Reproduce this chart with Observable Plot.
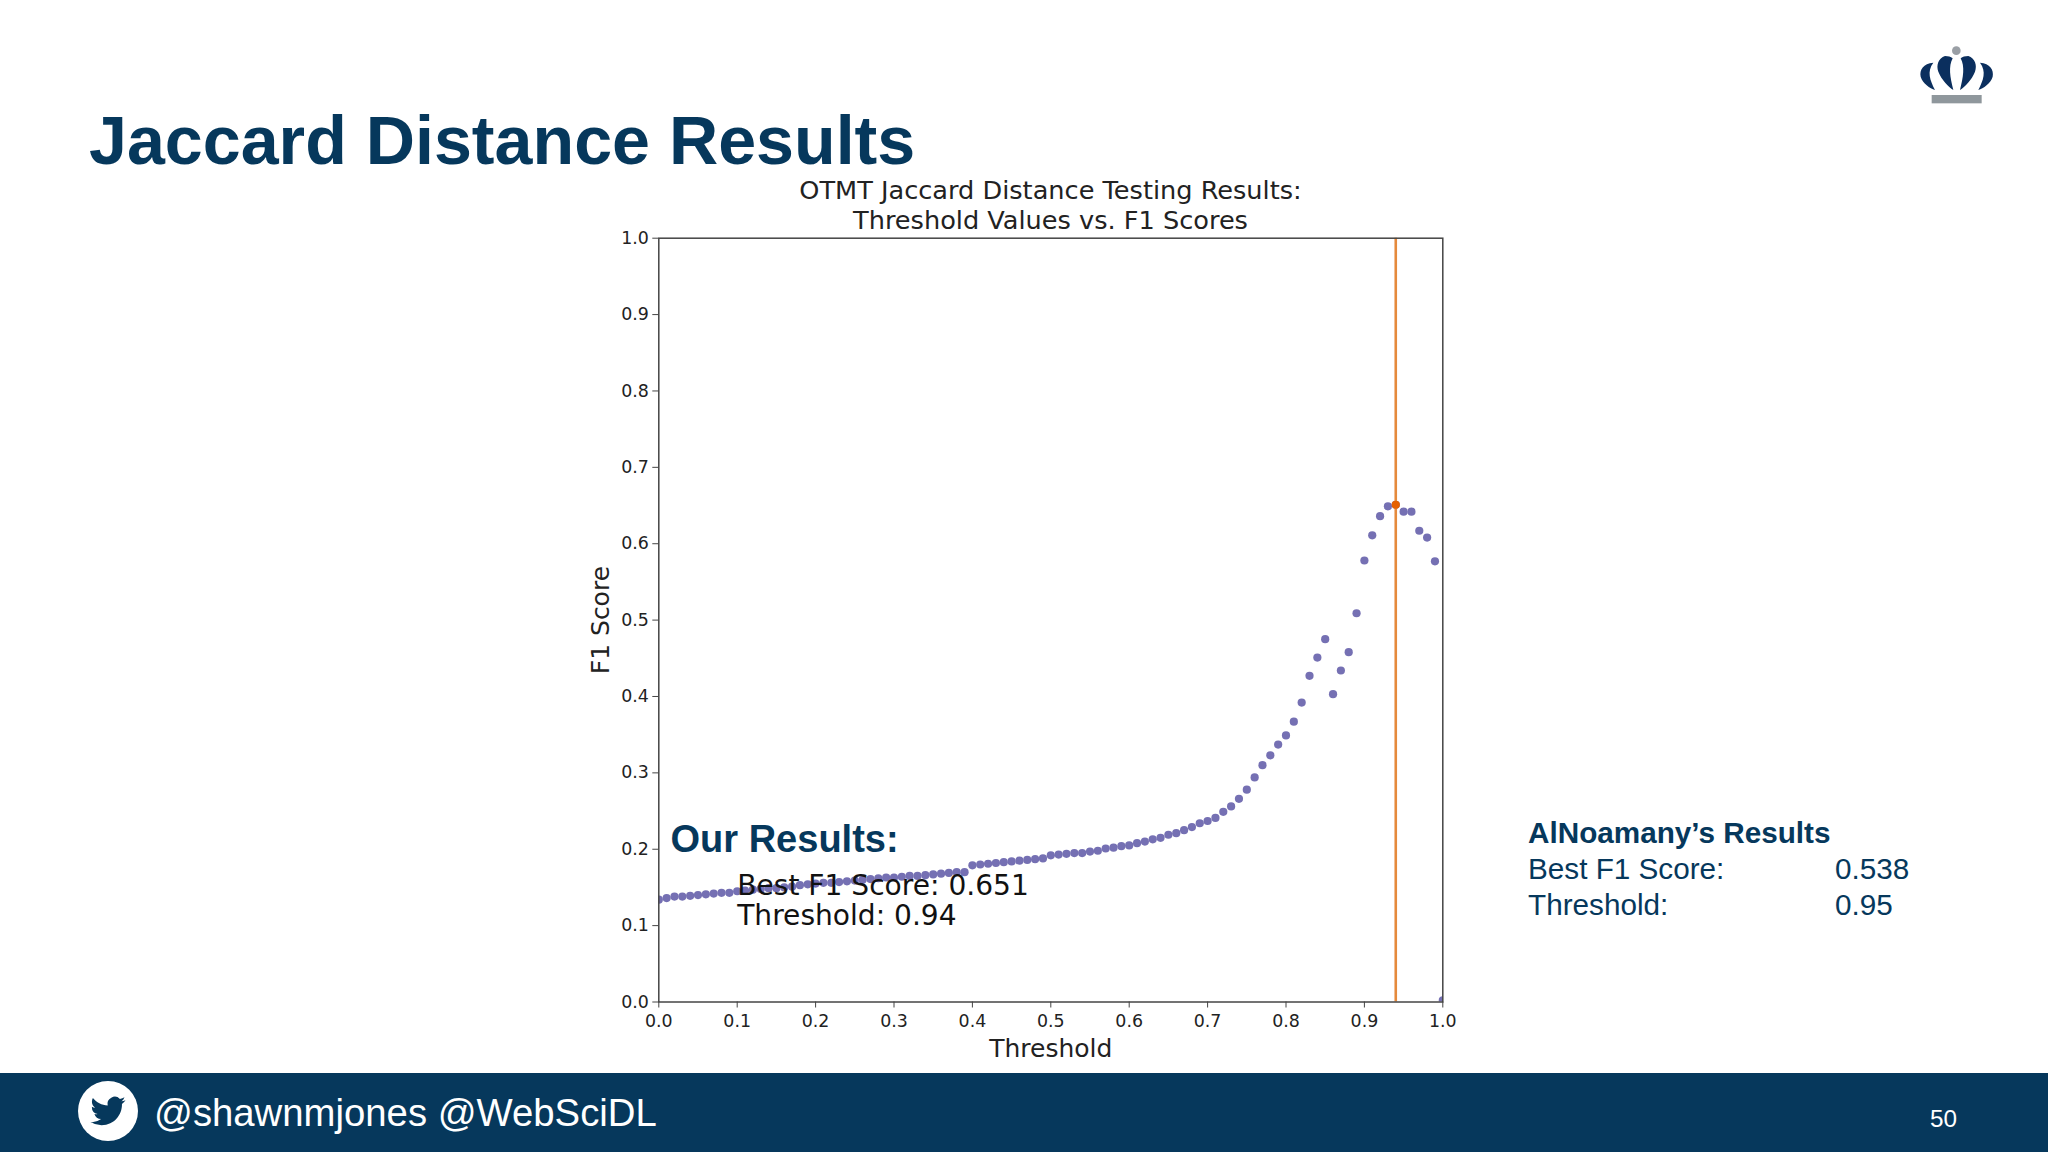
<!DOCTYPE html>
<html>
<head>
<meta charset="utf-8">
<script src="https://cdn.jsdelivr.net/npm/d3@7"></script>
<script src="https://cdn.jsdelivr.net/npm/@observablehq/plot@0.6"></script>
<style>
  html, body { margin: 0; padding: 0; background: #fff; }
  #slide { position: relative; width: 2048px; height: 1152px; overflow: hidden; font-family: "Liberation Sans", sans-serif; color: #06385c; }
  #slide > * { position: absolute; }
  #heading { left: 89px; top: 100px; font-size: 68.2px; font-weight: bold; line-height: 80px; white-space: nowrap; }
  #chart_title { left: 540px; width: 1021px; top: 175px; text-align: center; font-family: "DejaVu Sans"; font-size: 25.6px; line-height: 30px; color: #222; }
  #chart_1 { left: 540px; top: 170px; }
  #footer { left: 0; top: 1073px; width: 2048px; height: 79px; background: #06385c; }
  #handles { left: 154px; top: 1090px; font-size: 38.3px; line-height: 46px; color: #fff; white-space: nowrap; }
  #page { left: 1930px; top: 1105px; font-size: 24.3px; line-height: 28px; color: #fff; }
  .side { font-size: 29.7px; line-height: 36px; white-space: nowrap; }
</style>
</head>
<body>
<div id="slide">
  <svg style="left:1880px;top:30px" width="168" height="90" viewBox="0 0 504 270">
    <circle cx="229" cy="62" r="13" fill="#9a9fa5"/>
    <rect x="155" y="195" width="150" height="25" fill="#8f979c"/>
    <g fill="#0b2f5e">
      <path id="petal_a" d="M160 98C130 100 118 120 122 140C128 160 150 175 165 180C150 150 140 125 160 98Z"/>
      <path id="petal_b" d="M195 78C175 85 168 105 175 125C185 150 205 170 220 180C210 140 205 110 218 85C212 80 205 78 195 78Z"/>
      <use href="#petal_a" transform="translate(460 0) scale(-1 1)"/>
      <use href="#petal_b" transform="translate(460 0) scale(-1 1)"/>
    </g>
  </svg>
  <div id="heading">Jaccard Distance Results</div>
  <div id="chart_1"></div>
  <div id="chart_title">OTMT Jaccard Distance Testing Results:<br>Threshold Values vs. F1 Scores</div>
  <div class="side" style="left:1528px;top:815px;font-weight:bold">AlNoamany’s Results</div>
  <div class="side" style="left:1528px;top:851px">Best F1 Score:</div>
  <div class="side" style="left:1835px;top:851px">0.538</div>
  <div class="side" style="left:1528px;top:887px">Threshold:</div>
  <div class="side" style="left:1835px;top:887px">0.95</div>
  <div id="footer"></div>
  <svg style="left:78px;top:1081px" width="60" height="60" viewBox="0 0 60 60">
    <circle cx="30" cy="30" r="30" fill="#fff"/>
    <path transform="translate(12.5 12.5) scale(1.46)" fill="#06385c" d="M23.953 4.57a10 10 0 01-2.825.775 4.958 4.958 0 002.163-2.723c-.951.555-2.005.959-3.127 1.184a4.92 4.92 0 00-8.384 4.482C7.69 8.095 4.067 6.13 1.64 3.162a4.822 4.822 0 00-.666 2.475c0 1.71.87 3.213 2.188 4.096a4.904 4.904 0 01-2.228-.616v.06a4.923 4.923 0 003.946 4.827 4.996 4.996 0 01-2.212.085 4.936 4.936 0 004.604 3.417 9.867 9.867 0 01-6.102 2.105c-.39 0-.779-.023-1.17-.067a13.995 13.995 0 007.557 2.209c9.053 0 13.998-7.496 13.998-13.985 0-.21 0-.42-.015-.63A9.935 9.935 0 0024 4.59z"/>
  </svg>
  <div id="handles">@shawnmjones @WebSciDL</div>
  <div id="page">50</div>
</div>
<script>
const thresholds = [
  0.00, 0.01, 0.02, 0.03, 0.04, 0.05, 0.06, 0.07, 0.08, 0.09,
  0.10, 0.11, 0.12, 0.13, 0.14, 0.15, 0.16, 0.17, 0.18, 0.19,
  0.20, 0.21, 0.22, 0.23, 0.24, 0.25, 0.26, 0.27, 0.28, 0.29,
  0.30, 0.31, 0.32, 0.33, 0.34, 0.35, 0.36, 0.37, 0.38, 0.39,
  0.40, 0.41, 0.42, 0.43, 0.44, 0.45, 0.46, 0.47, 0.48, 0.49,
  0.50, 0.51, 0.52, 0.53, 0.54, 0.55, 0.56, 0.57, 0.58, 0.59,
  0.60, 0.61, 0.62, 0.63, 0.64, 0.65, 0.66, 0.67, 0.68, 0.69,
  0.70, 0.71, 0.72, 0.73, 0.74, 0.75, 0.76, 0.77, 0.78, 0.79,
  0.80, 0.81, 0.82, 0.83, 0.84, 0.85, 0.86, 0.87, 0.88, 0.89,
  0.90, 0.91, 0.92, 0.93, 0.94, 0.95, 0.96, 0.97, 0.98, 0.99,
  1.00
]
const f1Scores = [
  0.134, 0.136, 0.138, 0.138, 0.139, 0.140, 0.141, 0.142, 0.143, 0.143,
  0.145, 0.146, 0.147, 0.148, 0.149, 0.149, 0.150, 0.151, 0.153, 0.154,
  0.155, 0.156, 0.156, 0.157, 0.158, 0.159, 0.160, 0.161, 0.162, 0.163,
  0.163, 0.164, 0.165, 0.165, 0.166, 0.167, 0.168, 0.169, 0.170, 0.170,
  0.179, 0.180, 0.181, 0.182, 0.183, 0.184, 0.185, 0.186, 0.187, 0.188,
  0.192, 0.193, 0.194, 0.195, 0.195, 0.197, 0.198, 0.201, 0.202, 0.204,
  0.205, 0.208, 0.210, 0.213, 0.215, 0.219, 0.221, 0.225, 0.229, 0.234,
  0.237, 0.241, 0.249, 0.256, 0.266, 0.278, 0.294, 0.310, 0.323, 0.337,
  0.349, 0.367, 0.392, 0.427, 0.451, 0.475, 0.403, 0.434, 0.458, 0.509,
  0.578, 0.611, 0.636, 0.649, 0.651, 0.642, 0.642, 0.617, 0.608, 0.577,
  0.002
]
const bestThreshold = [0.94]
const bestScore = [0.651]
const tickValues = [0, 0.1, 0.2, 0.3, 0.4, 0.5, 0.6, 0.7, 0.8, 0.9, 1]
const noteLines = ['Best F1 Score: 0.651', 'Threshold: 0.94']
const noteY = [0.1407, 0.101]

const points = thresholds.map((t, i) => ({t, f1: f1Scores[i]}))
const fmt = d3.format('.1f')

let chart = Plot.plot({
  width: 960,
  height: 900,
  marginLeft: 118.3,
  marginRight: 57.7,
  marginTop: 67.7,
  marginBottom: 68.5,
  style: {background: 'transparent', fontFamily: 'DejaVu Sans'},
  x: {domain: [0, 1]},
  y: {domain: [0, 1]},
  marks: [
    Plot.dot(points, {x: 't', y: 'f1', r: 4.1, fill: '#7570b3', clip: true}),
    Plot.ruleX(bestThreshold, {stroke: '#e58a3c', strokeWidth: 2.6}),
    Plot.dot(bestThreshold, {x: d => d, y: (d, i) => bestScore[i], r: 4.1, fill: '#e66101'}),
    Plot.frame({stroke: '#444', strokeWidth: 1.5}),
    Plot.axisX({ticks: tickValues, tickFormat: fmt, label: null, tickSize: 6, tickPadding: 7, fontSize: 17.4, stroke: '#444', fill: '#222'}),
    Plot.axisY({ticks: tickValues, tickFormat: fmt, label: null, tickSize: 6, tickPadding: 4, fontSize: 17.4, stroke: '#444', fill: '#222'}),
    Plot.text(['Threshold'], {frameAnchor: 'bottom', dy: 55, fontSize: 25, fill: '#222'}),
    Plot.text(['F1 Score'], {frameAnchor: 'left', textAnchor: 'middle', rotate: -90, dx: -58, fontSize: 25, fill: '#222'}),
    Plot.text(noteLines, {x: [0.1, 0.1], y: noteY, textAnchor: 'start', lineAnchor: 'bottom', fontSize: 28.1, fill: '#111'}),
    Plot.text(['Our Results:'], {x: [0.015], y: [0.197], textAnchor: 'start', lineAnchor: 'bottom', fontSize: 38, fontWeight: 'bold', fontFamily: 'Liberation Sans', fill: '#06385c'})
  ]
})
d3.select('#chart_1').append(() => chart)
</script>
</body>
</html>
